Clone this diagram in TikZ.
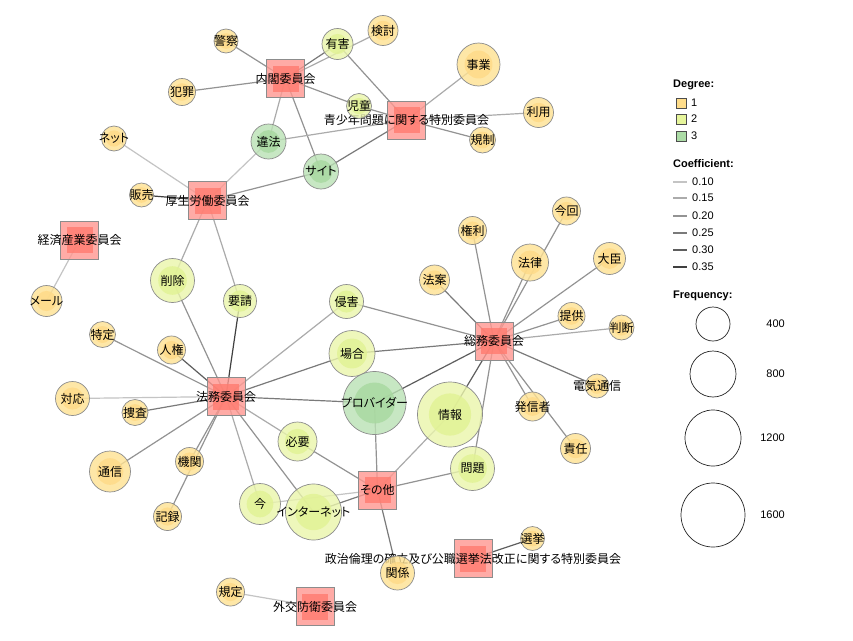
\documentclass[tikz,border=0pt]{standalone}
\usepackage{fontspec}
\setmainfont{Liberation Sans}
\newfontfamily\jpfont[RawFeature=+palt]{Noto Sans CJK JP}
\usetikzlibrary{backgrounds,calc}

% 色
\definecolor{nodeline}{HTML}{8C8C8C}
\definecolor{d1out}{RGB}{254,225,146}
\definecolor{d1in}{RGB}{254,218,135}
\definecolor{d2out}{RGB}{234,245,171}
\definecolor{d2in}{RGB}{225,242,148}
\definecolor{d3out}{RGB}{186,225,180}
\definecolor{d3in}{RGB}{167,216,159}
\definecolor{sqout}{RGB}{255,151,144}
\definecolor{sqin}{RGB}{255,123,111}
\definecolor{legd1}{HTML}{FFDD8A}
\definecolor{legd2}{HTML}{E6F59B}
\definecolor{legd3}{HTML}{ACDCA6}
\definecolor{c10}{HTML}{C4C4C4}
\definecolor{c15}{HTML}{ABABAB}
\definecolor{c20}{HTML}{939393}
\definecolor{c25}{HTML}{7A7A7A}
\definecolor{c30}{HTML}{5E5E5E}
\definecolor{c35}{HTML}{404040}

\tikzset{
  degnode/.style={circle, draw=nodeline, line width=0.7pt, inner sep=0pt, outer sep=0pt,
    fill=#1out, fill opacity=0.8,
    path picture={\fill[#1in, fill opacity=0.8]
      let \p1=(path picture bounding box.east), \p2=(path picture bounding box.center)
      in (\p2) circle ({0.65*(\x1-\x2)});}},
  deg1/.style={degnode=d1}, deg2/.style={degnode=d2}, deg3/.style={degnode=d3},
  cmte/.style={rectangle, draw=nodeline, line width=0.7pt, inner sep=0pt, outer sep=0pt,
    minimum size=38pt, fill=sqout, fill opacity=0.8,
    path picture={\fill[sqin, fill opacity=0.8]
      ($(path picture bounding box.center)+(-13pt,-13pt)$) rectangle +(26pt,26pt);}},
  wlabel/.style={font=\jpfont\fontsize{12}{12}\selectfont, text opacity=1, fill opacity=1, inner sep=0pt},
  w/.style={label={[wlabel]center:#1}},
  e10/.style={draw=c10, line width=1.2pt},
  e15/.style={draw=c15, line width=1.2pt},
  e20/.style={draw=c20, line width=1.2pt},
  e25/.style={draw=c25, line width=1.2pt},
  e30/.style={draw=c30, line width=1.2pt},
  e35/.style={draw=c35, line width=1.2pt},
  legtext/.style={font=\fontsize{11}{11}\selectfont, inner sep=0pt},
  legtitle/.style={font=\bfseries\fontsize{11}{11}\selectfont, inner sep=0pt, anchor=west},
}

\begin{document}
\begin{tikzpicture}[x=1pt, y=-1pt]
  \useasboundingbox (0,0) rectangle (853,640);
  % 委員会
  \node[cmte, w=内閣委員会] (naikaku) at (285.5,78.5) {};
  \node[cmte, w=青少年問題に関する特別委員会] (seishonen) at (406.5,120) {};
  \node[cmte, w=厚生労働委員会] (kosei) at (207.5,200.5) {};
  \node[cmte, w=経済産業委員会] (keizai) at (79.5,240) {};
  \node[cmte, w=総務委員会] (somu) at (494,341) {};
  \node[cmte, w=法務委員会] (homu) at (226,396.5) {};
  \node[cmte, w=その他] (sonota) at (377.5,490) {};
  \node[cmte, w=政治倫理の確立及び公職選挙法改正に関する特別委員会] (seiji) at (473,558.5) {};
  \node[cmte, w=外交防衛委員会] (gaiko) at (315,606.5) {};
  % 上の語
  \node[deg1, minimum size=24pt, w=警察] (keisatsu) at (226,41) {};
  \node[deg2, minimum size=31pt, w=有害] (yugai) at (337.5,44) {};
  \node[deg1, minimum size=30pt, w=検討] (kento) at (383,30.5) {};
  \node[deg1, minimum size=27pt, w=犯罪] (hanzai) at (182,92) {};
  \node[deg1, minimum size=43pt, w=事業] (jigyo) at (478.5,64.5) {};
  \node[deg2, minimum size=25pt, w=児童] (jido) at (359,106) {};
  \node[deg1, minimum size=30pt, w=利用] (riyo) at (538.5,112.5) {};
  \node[deg1, minimum size=26pt, w=規制] (kisei) at (482.5,140) {};
  \node[deg3, minimum size=35pt, w=違法] (ihou) at (268.5,141.5) {};
  \node[deg3, minimum size=35pt, w=サイト] (saito) at (321,171.5) {};
  \node[deg1, minimum size=25pt, w=ネット] (netto) at (114,138.5) {};
  \node[deg1, minimum size=24pt, w=販売] (hanbai) at (141.5,195) {};
  \node[deg2, minimum size=44pt, w=削除] (sakujo) at (172.5,280.5) {};
  \node[deg2, minimum size=33pt, w=要請] (yosei) at (240,301) {};
  \node[deg1, minimum size=31pt, w=メール] (meru) at (46.5,301) {};
  \node[deg2, minimum size=34pt, w=侵害] (shingai) at (346.5,301.5) {};
  \node[deg2, minimum size=46pt, w=場合] (baai) at (352,353.5) {};
  % 総務委員会のまわり
  \node[deg1, minimum size=28pt, w=権利] (kenri) at (472.5,230.5) {};
  \node[deg1, minimum size=28pt, w=今回] (konkai) at (566.5,211) {};
  \node[deg1, minimum size=37pt, w=法律] (horitsu) at (530,262.5) {};
  \node[deg1, minimum size=32pt, w=大臣] (daijin) at (609.5,258.5) {};
  \node[deg1, minimum size=30pt, w=法案] (houan) at (434.5,280) {};
  \node[deg1, minimum size=27pt, w=提供] (teikyo) at (571.5,316) {};
  \node[deg1, minimum size=25pt, w=判断] (handan) at (621.5,327.5) {};
  \node[deg1, minimum size=24pt, w=電気通信] (denki) at (597,386) {};
  \node[deg1, minimum size=29pt, w=発信者] (hasshin) at (532.5,406.5) {};
  \node[deg1, minimum size=30pt, w=責任] (sekinin) at (575.5,448.5) {};
  % 法務委員会のまわり
  \node[deg1, minimum size=26pt, w=特定] (tokutei) at (102.5,334.5) {};
  \node[deg1, minimum size=28pt, w=人権] (jinken) at (171.5,350) {};
  \node[deg1, minimum size=34pt, w=対応] (taio) at (72.5,398.5) {};
  \node[deg1, minimum size=26pt, w=捜査] (sosa) at (135,412.5) {};
  \node[deg1, minimum size=41pt, w=通信] (tsushin) at (110,471.5) {};
  \node[deg1, minimum size=28pt, w=機関] (kikan) at (189.5,461.5) {};
  \node[deg1, minimum size=28pt, w=記録] (kiroku) at (167.5,516.5) {};
  % 中央
  \node[deg3, minimum size=63pt, w=プロバイダー] (provider) at (374.5,403) {};
  \node[deg2, minimum size=65pt, w=情報] (joho) at (450,414.5) {};
  \node[deg2, minimum size=39pt, w=必要] (hitsuyo) at (297.5,441.5) {};
  \node[deg2, minimum size=44pt, w=問題] (mondai) at (472.5,468.5) {};
  \node[deg2, minimum size=41pt, w=今] (ima) at (260,504) {};
  \node[deg2, minimum size=56pt, w=インターネット] (internet) at (313.5,512) {};
  % 下の語
  \node[deg1, minimum size=24pt, w=選挙] (senkyo) at (532.5,538.5) {};
  \node[deg1, minimum size=34pt, w=関係] (kankei) at (397.5,573) {};
  \node[deg1, minimum size=28pt, w=規定] (kitei) at (230.5,592) {};

  % 共起の線
  \begin{scope}[on background layer]
    \fill[white] (0,0) rectangle (853,640);
    \foreach \t/\c in {keisatsu/e20, yugai/e25, kento/e15, hanzai/e20, jido/e20, ihou/e15, saito/e20}
      \draw[\c] (naikaku.center) -- (\t.center);
    \foreach \t/\c in {yugai/e20, jigyo/e15, riyo/e15, kisei/e20, jido/e20, ihou/e15, saito/e25}
      \draw[\c] (seishonen.center) -- (\t.center);
    \foreach \t/\c in {netto/e10, hanbai/e35, ihou/e10, saito/e20, sakujo/e15, yosei/e15}
      \draw[\c] (kosei.center) -- (\t.center);
    \draw[e10] (keizai.center) -- (meru.center);
    \foreach \t/\c in {kenri/e20, konkai/e20, horitsu/e20, daijin/e20, houan/e25, teikyo/e20,
        handan/e15, denki/e25, hasshin/e20, sekinin/e20, joho/e30, mondai/e20, baai/e25,
        shingai/e20, provider/e30}
      \draw[\c] (somu.center) -- (\t.center);
    \foreach \t/\c in {sakujo/e20, yosei/e35, shingai/e15, baai/e25, provider/e25, tokutei/e20,
        jinken/e30, taio/e10, sosa/e25, tsushin/e20, kikan/e20, kiroku/e20, hitsuyo/e15,
        ima/e15, internet/e20}
      \draw[\c] (homu.center) -- (\t.center);
    \foreach \t/\c in {provider/e20, joho/e15, hitsuyo/e20, mondai/e20, ima/e10, internet/e25, kankei/e25}
      \draw[\c] (sonota.center) -- (\t.center);
    \draw[e30] (seiji.center) -- (senkyo.center);
    \draw[e10] (gaiko.center) -- (kitei.center);
  \end{scope}

  % 凡例 Degree
  \node[legtitle] (degt) at (673,85) {Degree:};
  \foreach \d/\y in {1/103, 2/119, 3/136} {
    \node[rectangle, draw=black!70, fill=legd\d, minimum size=10pt, inner sep=0pt] (dg\d) at (681,\y) {};
    \node[legtext, anchor=west] (dgt\d) at (691,\y) {\d};
  }
  % 凡例 Coefficient
  \node[legtitle] (coeft) at (673,164) {Coefficient:};
  \foreach \v/\y/\s [count=\i] in {0.10/182/e10, 0.15/198/e15, 0.20/216/e20, 0.25/233/e25, 0.30/250/e30, 0.35/267/e35} {
    \coordinate (cf\i) at (673,\y);
    \draw[\s] (cf\i) -- ++(14,0);
    \node[legtext, anchor=west] (cft\i) at (692,\y) {\v};
  }
  % 凡例 Frequency
  \node[legtitle] (freqt) at (673,296) {Frequency:};
  \foreach \r/\y/\v [count=\i] in {17/324/400, 23/374/800, 28/438/1200, 32/515/1600} {
    \node[circle, draw=black!85, line width=0.7pt, minimum size=2*\r pt, inner sep=0pt] (fq\i) at (713,\y) {};
    \node[legtext, anchor=east] (fqt\i) at (785,\y) {\v};
  }
\end{tikzpicture}
\end{document}
